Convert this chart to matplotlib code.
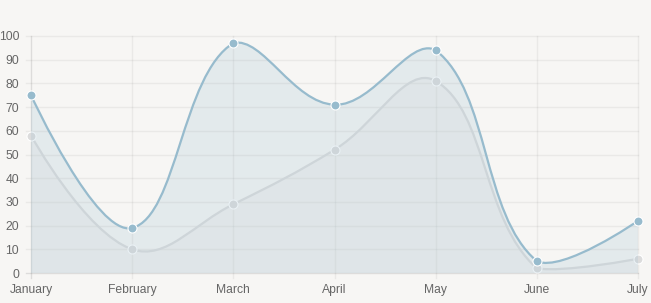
import numpy as np
import matplotlib
matplotlib.use("Agg")
import matplotlib.pyplot as plt
from matplotlib.path import Path
from matplotlib.patches import PathPatch

months = ["January", "February", "March", "April", "May", "June", "July"]
grey_values = [58, 10, 29, 52, 81, 2, 6]
blue_values = [75, 19, 97, 71, 94, 5, 22]
y_ticks = list(range(0, 101, 10))

BG = "#f7f6f4"
GRID = (0, 0, 0, 0.05)
AXIS = (0, 0, 0, 0.1)

fig = plt.figure(figsize=(6.51, 3.03), dpi=100, facecolor=BG)
ax = fig.add_axes([31 / 651, 30 / 303, 607 / 651, 237 / 303])
ax.set_facecolor(BG)
ax.set_xlim(0, len(months) - 1)
ax.set_ylim(0, 100)

x = np.arange(len(months))


def spline_path(ax, xs, ys, tension=0.4, close=False):
    pts = ax.transData.transform(np.column_stack([xs, ys]).astype(float))
    bottom = ax.transData.transform((0, 0))[1]
    top = ax.transData.transform((0, 100))[1]
    n = len(pts)
    inner, outer = [], []
    for i in range(n):
        p0 = pts[max(i - 1, 0)]
        p1 = pts[i]
        p2 = pts[min(i + 1, n - 1)]
        t = tension if 0 < i < n - 1 else 0
        d01 = np.hypot(*(p1 - p0))
        d12 = np.hypot(*(p2 - p1))
        s = d01 + d12
        fa = t * d01 / s if s else 0
        fb = t * d12 / s if s else 0
        ci = p1 - fa * (p2 - p0)
        co = p1 + fb * (p2 - p0)
        for c in (ci, co):
            c[1] = min(max(c[1], bottom), top)
        inner.append(ci)
        outer.append(co)
    verts = [pts[0]]
    codes = [Path.MOVETO]
    for i in range(1, n):
        verts += [outer[i - 1], inner[i], pts[i]]
        codes += [Path.CURVE4] * 3
    if close:
        verts += [ax.transData.transform((xs[-1], 0)), ax.transData.transform((xs[0], 0)), pts[0]]
        codes += [Path.LINETO, Path.LINETO, Path.CLOSEPOLY]
    inv = ax.transData.inverted()
    return Path(inv.transform(np.array(verts)), codes)


# grid
for yt in y_ticks:
    ax.plot([-5 / 607 * 6, 6], [yt, yt], color=GRID if yt else AXIS, lw=1,
            clip_on=False, zorder=0.5)
for i in x:
    ax.plot([i, i], [-5 / 237 * 100, 100], color=GRID if i else AXIS, lw=1,
            clip_on=False, zorder=0.5)

datasets = [
    (grey_values, (220 / 255, 220 / 255, 220 / 255)),
    (blue_values, (151 / 255, 187 / 255, 205 / 255)),
]
z = 1
for vals, col in datasets:
    fill = PathPatch(spline_path(ax, x, vals, close=True), facecolor=col + (0.2,),
                     edgecolor="none", zorder=z)
    ax.add_patch(fill)
    line = PathPatch(spline_path(ax, x, vals), facecolor="none", edgecolor=col,
                     lw=1.6, zorder=z + 0.1, clip_on=False)
    ax.add_patch(line)
    ax.scatter(x, vals, s=42, color=col, edgecolors="white", linewidths=0.8,
               zorder=z + 0.2, clip_on=False)
    z += 1

for s in ax.spines.values():
    s.set_visible(False)
ax.tick_params(length=0, pad=0)
ax.set_yticks(y_ticks)
ax.set_yticklabels([str(v) for v in y_ticks], fontsize=8.7, color="#666666",
                   family="Liberation Sans")
ax.set_xticks(x)
ax.set_xticklabels(months, fontsize=8.7, color="#666666", family="Liberation Sans")
ax.tick_params(axis="y", pad=8.5)
ax.tick_params(axis="x", pad=8)

fig.savefig("out.png", dpi=100, facecolor=BG)
